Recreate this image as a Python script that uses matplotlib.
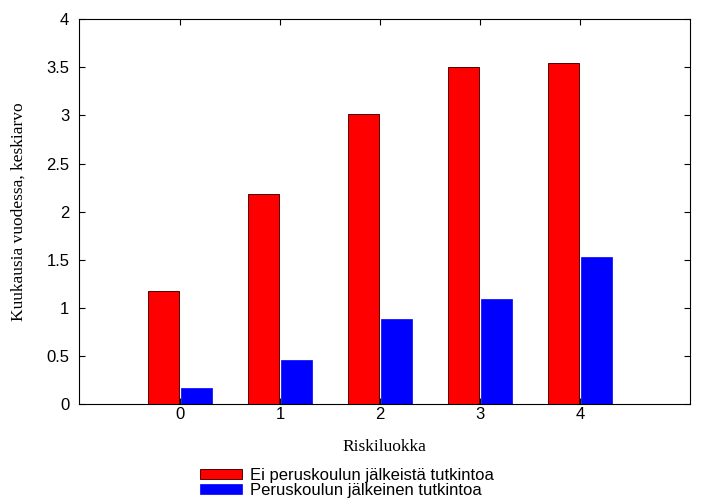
import numpy as np
import matplotlib
matplotlib.use("Agg")
import matplotlib.pyplot as plt

categories = [0, 1, 2, 3, 4]
ei_tutkintoa = [1.18, 2.18, 3.01, 3.50, 3.54]
tutkinto = [0.17, 0.46, 0.88, 1.09, 1.53]
labels = ["Ei peruskoulun jälkeistä tutkintoa", "Peruskoulun jälkeinen tutkintoa"]

plt.rcParams['font.family'] = ['Liberation Sans', 'DejaVu Sans']

fig = plt.figure(figsize=(7.2, 5.04), dpi=100)
ax = fig.add_axes([0.1097, 0.198, 0.8486, 0.764])

x = np.array(categories)
w = 0.31
ax.bar(x - 0.165, ei_tutkintoa, width=w, color="#ff0000", edgecolor="#550000", linewidth=0.7, label=labels[0])
ax.bar(x + 0.165, tutkinto, width=w, color="#0000ff", edgecolor="#0000ff", linewidth=0.5, label=labels[1])

ax.set_xlim(-1.01, 5.1)
ax.set_ylim(0, 4)
ax.set_xticks(categories)
ax.set_yticks(np.arange(0, 4.01, 0.5))
ax.set_yticklabels(["0", "0.5", "1", "1.5", "2", "2.5", "3", "3.5", "4"])
ax.tick_params(direction="in", top=True, right=True, labelsize=12, length=4)
ax.tick_params(axis="x", pad=2)
ax.tick_params(axis="y", pad=7)

ax.set_xlabel("Riskiluokka", family="Liberation Serif", fontsize=12.5, labelpad=12)
ax.set_ylabel("Kuukausia vuodessa, keskiarvo", family="Liberation Serif", fontsize=12.5, labelpad=14)

fig.legend(loc="lower left", bbox_to_anchor=(200 / 720, 6 / 504), frameon=False, fontsize=12,
           borderpad=0, borderaxespad=0,
           handlelength=2.5, handleheight=0.6, labelspacing=0.0, handletextpad=0.5)

plt.savefig("out.png", dpi=100)
